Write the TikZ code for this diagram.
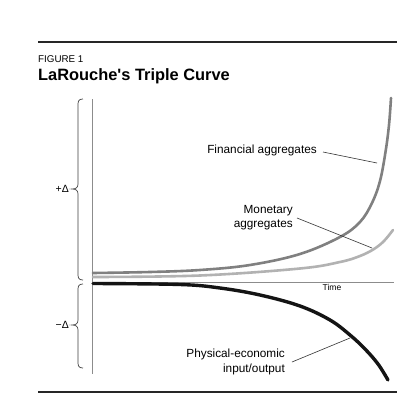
\documentclass[tikz,border=0pt]{standalone}
\usepackage{fontspec}
\setmainfont{Liberation Sans}
\newfontfamily\plainsans{Liberation Sans}
\begin{document}
\begin{tikzpicture}[x=1pt,y=-1pt,
  rule/.style={line width=2.6pt,draw=black!85},
  axis/.style={line width=0.8pt,draw=black!45},
  bracestyle/.style={line width=0.7pt,draw=black!75},
  leader/.style={line width=0.6pt,draw=black!80},
  lbl/.style={font=\fontsize{11.8}{14.2}\selectfont,inner sep=0pt,align=right},
  fincurve/.style={line width=2.6pt,draw=black!50,line cap=round},
  moncurve/.style={line width=2.6pt,draw=black!30,line cap=round},
  phycurve/.style={line width=3.4pt,draw=black!92,line cap=round}]
\useasboundingbox (0,0) rectangle (416,410);
\fill[white] (0,0) rectangle (416,410);
% rules
\coordinate (tl) at (38,42); \coordinate (tr) at (397,42);
\coordinate (bl) at (38,392); \coordinate (br) at (397,392);
\draw[rule] (tl) -- (tr);
\draw[rule] (bl) -- (br);
% titles
\node[anchor=base west,inner sep=0pt,font=\fontsize{9.8}{11}\selectfont] (fig) at (38,62) {FIGURE 1};
\node[anchor=base west,inner sep=0pt,font=\plainsans\fontsize{16.4}{19}\bfseries] (title) at (38,80) {LaRouche's Triple Curve};
% axes
\coordinate (ytop) at (92,99); \coordinate (ybot) at (92,374);
\coordinate (x0) at (92,282); \coordinate (xend) at (394,282);
\draw[axis] (ytop) -- (ybot);
\draw[axis] (x0) -- (xend);
\node[inner sep=0pt,font=\fontsize{8.5}{10}\selectfont] (time) at (332,287.5) {Time};
% braces
\draw[bracestyle] (83,99) .. controls (79.5,99) and (78,100.5) .. (78,104) -- (78,184)
  .. controls (78,187.5) and (76,189) .. (72,189) .. controls (76,189) and (78,190.5) .. (78,194)
  -- (78,275) .. controls (78,278.5) and (79.5,280) .. (83,280);
\draw[bracestyle] (83,284) .. controls (79.5,284) and (78,285.5) .. (78,289) -- (78,320)
  .. controls (78,323.5) and (76,325) .. (72,325) .. controls (76,325) and (78,326.5) .. (78,330)
  -- (78,363) .. controls (78,366.5) and (79.5,368) .. (83,368);
\node[inner sep=0pt,font=\fontsize{10.5}{12}\selectfont,anchor=east] (plus) at (69,189) {+Δ};
\node[inner sep=0pt,font=\fontsize{10.5}{12}\selectfont,anchor=east] (minus) at (69,325) {−Δ};
% curves
\draw[moncurve] plot[smooth,tension=0.6] coordinates {(93,277) (200,275.5) (300,268.5) (340,262) (360,256) (374,249) (384,241) (393,230)};
\draw[fincurve] plot[smooth,tension=0.6] coordinates {(93,273) (150,272) (200,270) (250,265) (300,254) (340,237) (360,222) (372,203) (380,181) (385.5,152) (389,125) (391,98)};
\draw[phycurve] plot[smooth,tension=0.6] coordinates {(93,283.5) (180,284.5) (220,288) (260,295) (300,306) (330,320) (350,335) (365,349) (378,364) (388,380)};
% labels
\node[lbl,anchor=base east] (fin) at (317,153) {Financial aggregates};
\coordinate (finend) at (377,163);
\draw[leader] (323,152) -- (finend);
\node[lbl,anchor=east] (mon) at (293,218) {Monetary\\aggregates};
\coordinate (monend) at (372,248);
\draw[leader] (297,218) -- (monend);
\node[lbl,anchor=east] (phy) at (285,362) {Physical-economic\\input/output};
\coordinate (phyend) at (350,338);
\draw[leader] (292,362) -- (phyend);
\end{tikzpicture}
\end{document}
